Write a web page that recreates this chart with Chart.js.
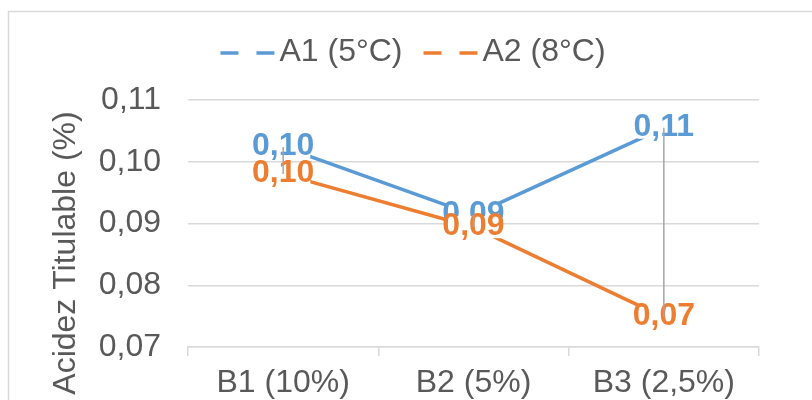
<!DOCTYPE html>
<html>
<head>
<meta charset="utf-8">
<script src="https://cdn.jsdelivr.net/npm/chart.js@4/dist/chart.umd.min.js"></script>
<style>
  html, body { margin: 0; padding: 0; background: #ffffff; overflow: hidden; }
  #wrap { position: relative; width: 812px; height: 440px; }
</style>
</head>
<body>
<div id="wrap"><canvas id="chart"></canvas></div>
<script>
// Categories, series and axis ticks
const categories = ['B1 (10%)', 'B2 (5%)', 'B3 (2,5%)'];
const seriesNames = ['A1 (5°C)', 'A2 (8°C)'];
const seriesA1 = [0.1024, 0.0914, 0.1055];
const seriesA2 = [0.0980, 0.0894, 0.0748];
const yTickValues = [0.07, 0.08, 0.09, 0.10, 0.11];
const yTitle = 'Acidez Titulable (%)';

const FONT = '"Liberation Sans", Arial, sans-serif';
const TEXT_COLOR = '#595959';
const GRID_COLOR = '#d9d9d9';
const COLORS = ['#5B9BD5', '#ED7D31'];

const fmt = v => v.toFixed(2).replace('.', ',');

// Outer frame of the chart
const framePlugin = {
  id: 'frame',
  beforeDraw(chart) {
    const ctx = chart.ctx;
    ctx.save();
    ctx.fillStyle = '#ffffff';
    ctx.fillRect(0, 0, chart.width, chart.height);
    ctx.strokeStyle = GRID_COLOR;
    ctx.lineWidth = 1.5;
    ctx.strokeRect(8.5, 11.5, chart.width + 20, chart.height + 20);
    ctx.restore();
  }
};

// Legend with dashed line samples
const dashLegendPlugin = {
  id: 'dashLegend',
  afterDraw(chart) {
    const ctx = chart.ctx;
    ctx.save();
    ctx.font = '32px ' + FONT;
    ctx.textBaseline = 'middle';
    ctx.textAlign = 'left';
    const dash = 18, gapDash = 18, sample = dash * 2 + gapDash, textGap = 5, itemGap = 21;
    const widths = chart.data.datasets.map(ds => sample + textGap + ctx.measureText(ds.label).width);
    const total = widths.reduce((a, b) => a + b, 0) + itemGap * (widths.length - 1);
    let x = 413 - total / 2;
    const y = 53;
    chart.data.datasets.forEach((ds, i) => {
      ctx.strokeStyle = ds.borderColor;
      ctx.lineWidth = 3.5;
      ctx.lineCap = 'butt';
      ctx.beginPath();
      ctx.moveTo(x, y); ctx.lineTo(x + dash, y);
      ctx.moveTo(x + dash + gapDash, y); ctx.lineTo(x + sample, y);
      ctx.stroke();
      ctx.fillStyle = TEXT_COLOR;
      ctx.fillText(ds.label, x + sample + textGap, y - 1);
      x += widths[i] + itemGap;
    });
    ctx.restore();
  }
};

// Rotated title of the value axis
const yTitlePlugin = {
  id: 'yTitle',
  afterDraw(chart) {
    const ctx = chart.ctx;
    ctx.save();
    ctx.translate(66, 253);
    ctx.rotate(-Math.PI / 2);
    ctx.font = '32px ' + FONT;
    ctx.fillStyle = TEXT_COLOR;
    ctx.textAlign = 'center';
    ctx.textBaseline = 'middle';
    ctx.fillText(yTitle, 0, 0);
    ctx.restore();
  }
};

// Value labels on each point, then the high-low connectors
const pointLabelPlugin = {
  id: 'pointLabels',
  afterDatasetsDraw(chart) {
    const ctx = chart.ctx;
    ctx.save();
    ctx.font = 'bold 32px ' + FONT;
    ctx.textAlign = 'center';
    ctx.textBaseline = 'middle';
    chart.data.datasets.forEach((ds, di) => {
      const meta = chart.getDatasetMeta(di);
      meta.data.forEach((pt, i) => {
        const txt = fmt(ds.data[i]);
        const w = ctx.measureText(txt).width;
        ctx.fillStyle = '#ffffff';
        ctx.fillRect(pt.x - w / 2 + 4, pt.y - 11, w - 8, 22);
        ctx.fillStyle = ds.borderColor;
        ctx.fillText(txt, pt.x, pt.y - 1);
      });
    });
    const m0 = chart.getDatasetMeta(0), m1 = chart.getDatasetMeta(1);
    ctx.strokeStyle = '#a5a5a5';
    ctx.lineWidth = 1.5;
    m0.data.forEach((p, i) => {
      const q = m1.data[i];
      ctx.beginPath();
      ctx.moveTo(p.x, p.y);
      ctx.lineTo(q.x, q.y);
      ctx.stroke();
    });
    ctx.restore();
  }
};

new Chart(document.getElementById('chart'), {
  type: 'line',
  data: {
    labels: categories,
    datasets: [
      { label: seriesNames[0], data: seriesA1, borderColor: COLORS[0], backgroundColor: COLORS[0] },
      { label: seriesNames[1], data: seriesA2, borderColor: COLORS[1], backgroundColor: COLORS[1] }
    ]
  },
  options: {
    responsive: true,
    maintainAspectRatio: false,
    animation: false,
    layout: { padding: { top: 100, left: 0, right: 53, bottom: 0 } },
    elements: {
      line: { borderWidth: 3.5, tension: 0, borderCapStyle: 'round', borderJoinStyle: 'round' },
      point: { radius: 0, hoverRadius: 0 }
    },
    plugins: {
      legend: { display: false },
      tooltip: { enabled: false }
    },
    scales: {
      x: {
        type: 'category',
        offset: true,
        grid: {
          offset: true,
          drawOnChartArea: false,
          drawTicks: true,
          tickLength: 9,
          color: GRID_COLOR,
          lineWidth: 1.5
        },
        border: { display: true, color: GRID_COLOR, width: 1.5 },
        ticks: { font: { family: FONT, size: 32 }, color: TEXT_COLOR, padding: 8, maxRotation: 0, autoSkip: false },
        afterFit(scale) { scale.height = 93; }
      },
      y: {
        min: 0.07,
        max: 0.11,
        afterBuildTicks(scale) { scale.ticks = yTickValues.map(v => ({ value: v })); },
        grid: { color: GRID_COLOR, lineWidth: 1.5, drawTicks: false },
        border: { display: false },
        ticks: {
          font: { family: FONT, size: 32 },
          color: TEXT_COLOR,
          padding: 27,
          callback: v => fmt(v)
        },
        afterFit(scale) { scale.width = 188; }
      }
    }
  },
  plugins: [framePlugin, pointLabelPlugin, dashLegendPlugin, yTitlePlugin]
});
</script>
</body>
</html>
